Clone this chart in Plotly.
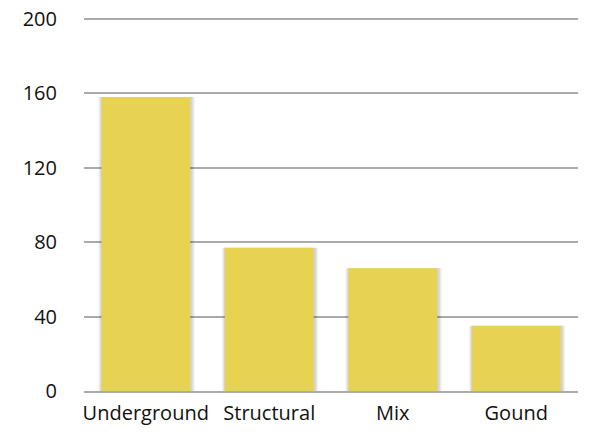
import plotly.graph_objects as go

categories = ["Underground", "Structural", "Mix", "Gound"]
values = [158, 77, 66, 35]
y_ticks = [0, 40, 80, 120, 160, 200]

BAR_W = 0.72
fig = go.Figure()
# soft shadow layers behind the bars (slightly shifted to the right)
for w, a in [(0.785, 0.04), (0.765, 0.06), (0.745, 0.08)]:
    fig.add_trace(go.Bar(
        x=categories, y=values, width=w, offset=-w / 2 + 0.006,
        marker=dict(color=f"rgba(0,0,0,{a})", line=dict(width=0)),
        hoverinfo="skip",
    ))
fig.add_trace(go.Bar(
    x=categories, y=values, width=BAR_W, offset=-BAR_W / 2,
    marker=dict(color="#E8D252", line=dict(width=0)),
))
fig.update_layout(
    width=589, height=441,
    margin=dict(l=84, r=11, t=15, b=50),
    paper_bgcolor="white", plot_bgcolor="white",
    showlegend=False, barmode="overlay",
    font=dict(family="Open Sans", size=20, color="#111"),
)
fig.update_yaxes(
    range=[0, 202], tickvals=y_ticks, showgrid=True, gridcolor="#ABABAB", gridwidth=1.5,
    zeroline=False, showline=False, ticklabelstandoff=26, fixedrange=True,
    automargin=False,
)
fig.update_xaxes(
    showline=True, linecolor="#ABABAB", linewidth=1.5, ticks="", ticklabelstandoff=3,
    automargin=False,
)
fig.write_html("out.html")
